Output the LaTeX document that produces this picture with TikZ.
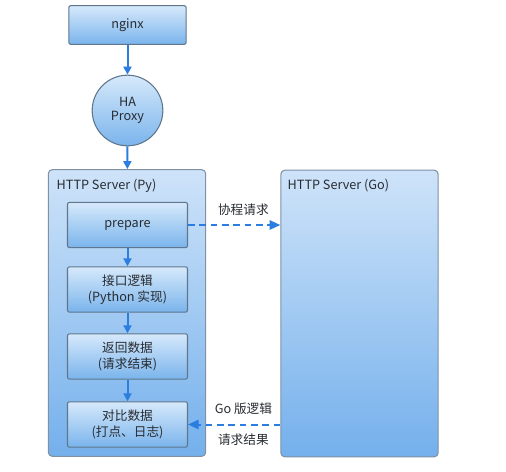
\documentclass[tikz,border=0pt]{standalone}
\usepackage{fontspec}
\setmainfont{Noto Sans CJK SC}
\usetikzlibrary{arrows.meta,positioning,shapes.geometric}
\definecolor{linecol}{RGB}{43,125,224}
\definecolor{edgecol}{RGB}{96,118,140}
\definecolor{boxtop}{RGB}{214,233,251}
\definecolor{boxbot}{RGB}{122,180,236}
\definecolor{srvtop}{RGB}{206,227,249}
\definecolor{srvbot}{RGB}{116,176,236}
\definecolor{txtcol}{RGB}{40,44,50}
\tikzset{
  srv/.style={rectangle,rounded corners=3pt,draw=edgecol!80,line width=0.8pt,top color=srvtop,bottom color=srvbot,minimum width=118pt,minimum height=215pt},
  stepbox/.style={rectangle,rounded corners=1.5pt,draw=edgecol,line width=0.8pt,top color=boxtop,bottom color=boxbot,minimum width=90pt,minimum height=34pt,align=center,font=\fontsize{9.5}{12.5}\selectfont,text=txtcol},
  topbox/.style={stepbox,minimum width=88pt,minimum height=29pt},
  ha/.style={circle,draw=edgecol,line width=0.8pt,top color=boxtop,bottom color=boxbot,minimum size=53pt,inner sep=0pt,align=center,font=\fontsize{9.5}{12.5}\selectfont,text=txtcol},
  title/.style={anchor=west,font=\fontsize{9.5}{11}\selectfont,text=txtcol},
  lbl/.style={font=\fontsize{9.5}{11}\selectfont,text=txtcol},
  flow/.style={-{Triangle[length=6pt,width=6pt]},draw=linecol,line width=1.5pt},
  call/.style={-{Triangle[length=8pt,width=7pt]},draw=linecol,line width=1.5pt,dash pattern=on 5pt off 3.5pt}
}
\begin{document}
\begin{tikzpicture}[x=0.75pt,y=-0.75pt]
\useasboundingbox (0,0) rectangle (506,471);
\node[topbox](nginx) at (127.5,25){nginx};
\node[ha](haproxy) at (127.5,110.5){HA\\[-2pt]Proxy};
\node[srv](pysrv) at (127,313){};
\node[srv](gosrv) at (359.5,313.5){};
\node[title] at (52,186){HTTP Server (Py)};
\node[title] at (283,186){HTTP Server (Go)};
\node[stepbox](prepare) at (127.5,225){prepare};
\node[stepbox](logic) at (127.5,289.5){接口逻辑\\(Python 实现)};
\node[stepbox](ret) at (127.5,356.5){返回数据\\(请求结束)};
\node[stepbox](cmp) at (127.5,424.5){对比数据\\(打点、日志)};
\draw[flow] (nginx) -- (haproxy);
\draw[flow] (haproxy) -- (pysrv);
\foreach \a/\b in {prepare/logic,logic/ret,ret/cmp}{\draw[flow](\a)--(\b);}
\draw[call] (prepare.east) -- (prepare.east -| gosrv.west) node[lbl,pos=0.6,above=3pt]{协程请求};
\draw[call] (cmp.east -| gosrv.west) -- (cmp.east) node[lbl,pos=0.4,above=3pt]{Go 版逻辑} node[lbl,pos=0.4,below=3pt]{请求结果};
\end{tikzpicture}
\end{document}
